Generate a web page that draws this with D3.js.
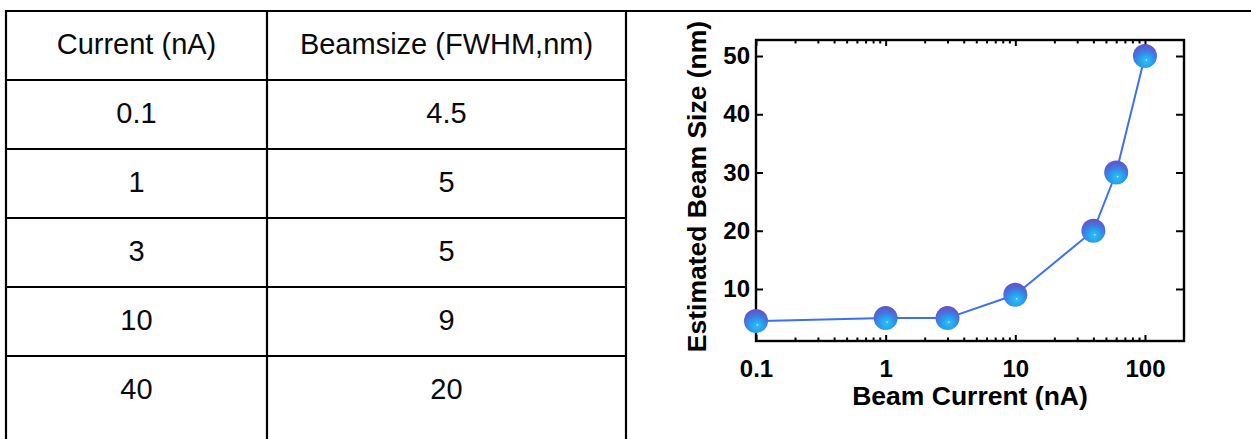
<!DOCTYPE html>
<html>
<head>
<meta charset="utf-8">
<script src="https://cdn.jsdelivr.net/npm/d3@7"></script>
<style>
  html, body { margin: 0; padding: 0; background: #fff; }
  svg { display: block; }
</style>
</head>
<body>
<script>
// Beam current vs. estimated beam size
const currents = [0.1, 1, 3, 10, 40, 60, 100];
const beamSizes = [4.5, 5, 5, 9, 20, 30, 50];
const tableHeaders = ["Current (nA)", "Beamsize (FWHM,nm)"];
const tableRowCount = 5;
const xMajorTicks = [0.1, 1, 10, 100];
const xTickLabels = ["0.1", "1", "10", "100"];
const yTicks = [10, 20, 30, 40, 50];
const xTitle = "Beam Current (nA)";
const yTitle = "Estimated Beam Size (nm)";

const W = 1251, H = 439;
const svg = d3.select("body").append("svg")
  .attr("width", W).attr("height", H)
  .style("font-family", "'Liberation Sans', Arial, Helvetica, sans-serif");

svg.append("rect").attr("width", W).attr("height", H).attr("fill", "#fff");

// ---------- Table ----------
const tbl = svg.append("g");
const colEdges = [6, 267, 626];
const rowEdgeY = d3.scaleLinear().domain([0, 1]).range([11, 80]); // row index -> y of row top
const lineColor = "#000";

// horizontal rules
d3.range(tableRowCount + 1).forEach(i => {
  tbl.append("line")
    .attr("x1", colEdges[0] - 1).attr("x2", i === 0 ? W : colEdges[2] + 1)
    .attr("y1", rowEdgeY(i)).attr("y2", rowEdgeY(i))
    .attr("stroke", lineColor).attr("stroke-width", 2.2);
});
// vertical rules
colEdges.forEach(x => {
  tbl.append("line")
    .attr("x1", x).attr("x2", x)
    .attr("y1", rowEdgeY(0) - 1).attr("y2", H)
    .attr("stroke", lineColor).attr("stroke-width", 2.2);
});

const colCenters = [(colEdges[0] + colEdges[1]) / 2, (colEdges[1] + colEdges[2]) / 2];
const tableRows = [tableHeaders].concat(
  d3.range(tableRowCount).map(i => [String(currents[i]), String(beamSizes[i])])
);
tableRows.forEach((row, i) => {
  const cy = (rowEdgeY(i) + rowEdgeY(i + 1)) / 2;
  row.forEach((txt, j) => {
    tbl.append("text")
      .attr("x", colCenters[j]).attr("y", cy - 2)
      .attr("dy", "0.35em")
      .attr("text-anchor", "middle")
      .attr("font-size", 29)
      .attr("fill", "#0a0a0a")
      .text(txt);
  });
});

// ---------- Chart ----------
const plot = { left: 756, right: 1184, top: 40, bottom: 341 };
const x = d3.scaleLog().domain([0.1, 200]).range([plot.left, plot.right]);
const y = d3.scaleLinear().domain([1.07, 52.75]).range([plot.bottom, plot.top]);

const chart = svg.append("g");

const minorTicks = [];
[0.1, 1, 10, 100].forEach(d => {
  for (let k = 2; k <= 9; k++) {
    const v = d * k;
    if (v < 200) minorTicks.push(v);
  }
});

function styleAxis(g, hideLabels) {
  g.select(".domain").remove();
  g.selectAll(".tick line").attr("stroke", "#000").attr("stroke-width", 2);
  if (hideLabels) g.selectAll(".tick text").remove();
  g.selectAll(".tick text")
    .attr("fill", "#000")
    .attr("font-size", 24)
    .attr("font-weight", "bold")
    .attr("font-family", "'Liberation Sans', Arial, Helvetica, sans-serif");
}

// bottom axis (ticks pointing inward)
chart.append("g").attr("transform", `translate(0,${plot.bottom})`)
  .call(d3.axisBottom(x).tickValues(minorTicks).tickSize(-3.5).tickSizeOuter(0).tickFormat(""))
  .call(g => styleAxis(g, true));
chart.append("g").attr("transform", `translate(0,${plot.bottom})`)
  .call(d3.axisBottom(x).tickValues(xMajorTicks).tickSize(-6).tickSizeOuter(0).tickPadding(19)
    .tickFormat((d, i) => xTickLabels[i]))
  .call(g => styleAxis(g, false));

// top axis
chart.append("g").attr("transform", `translate(0,${plot.top})`)
  .call(d3.axisTop(x).tickValues(minorTicks).tickSize(-3.5).tickSizeOuter(0).tickFormat(""))
  .call(g => styleAxis(g, true));
chart.append("g").attr("transform", `translate(0,${plot.top})`)
  .call(d3.axisTop(x).tickValues(xMajorTicks).tickSize(-6).tickSizeOuter(0).tickFormat(""))
  .call(g => styleAxis(g, true));

// left axis
chart.append("g").attr("transform", `translate(${plot.left},0)`)
  .call(d3.axisLeft(y).tickValues(yTicks).tickSize(-7).tickSizeOuter(0).tickPadding(6).tickFormat(d3.format("d")))
  .call(g => styleAxis(g, false));

// right axis
chart.append("g").attr("transform", `translate(${plot.right},0)`)
  .call(d3.axisRight(y).tickValues(yTicks).tickSize(-8).tickSizeOuter(0).tickFormat(""))
  .call(g => styleAxis(g, true));

// frame
chart.append("rect")
  .attr("x", plot.left).attr("y", plot.top)
  .attr("width", plot.right - plot.left).attr("height", plot.bottom - plot.top)
  .attr("fill", "none").attr("stroke", "#000").attr("stroke-width", 2.4);

// axis titles
chart.append("text")
  .attr("x", (plot.left + plot.right) / 2).attr("y", 405)
  .attr("text-anchor", "middle")
  .attr("font-size", 26.5).attr("font-weight", "bold").attr("fill", "#000")
  .text(xTitle);
chart.append("text")
  .attr("transform", `translate(706,${(plot.top + plot.bottom) / 2 - 4}) rotate(-90)`)
  .attr("text-anchor", "middle")
  .attr("font-size", 26.5).attr("font-weight", "bold").attr("fill", "#000")
  .text(yTitle);

// sphere-style marker gradient: purple cap on top, cyan underside, small highlight
const defs = svg.append("defs");
const grad = defs.append("radialGradient").attr("id", "sphere")
  .attr("cx", "0.5").attr("cy", "0.85").attr("r", "0.85")
  .attr("fx", "0.56").attr("fy", "0.66");
[[0, "#dcf4ff"], [0.06, "#36b8f4"], [0.28, "#22a6ee"], [0.58, "#4576e0"], [1, "#6250c8"]]
  .forEach(([o, c]) => grad.append("stop").attr("offset", o).attr("stop-color", c));

// connecting line
const pts = currents.map((c, i) => [c, beamSizes[i]]);
chart.append("path")
  .datum(pts)
  .attr("fill", "none")
  .attr("stroke", "#3d6ff5")
  .attr("stroke-width", 2)
  .attr("d", d3.line().x(d => x(d[0])).y(d => y(d[1])));

// markers
chart.selectAll("circle.pt").data(pts).join("circle")
  .attr("class", "pt")
  .attr("cx", d => x(d[0])).attr("cy", d => y(d[1]))
  .attr("r", 12)
  .attr("fill", "url(#sphere)");
</script>
</body>
</html>
